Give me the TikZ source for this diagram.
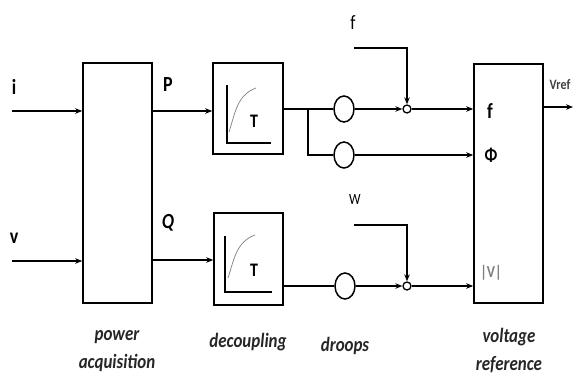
\documentclass[tikz,border=0pt]{standalone}
\usepackage{fontspec}
\setmainfont{Carlito}
\usetikzlibrary{arrows.meta,shapes.geometric}
\tikzset{
  blk/.style={draw, line width=1.6bp, inner sep=0pt, fill=white},
  wire/.style={line width=1.6bp},
  arr/.style={wire, -{Stealth[length=7bp,width=5.5bp]}},
  oval/.style={draw, ellipse, line width=1.5bp, minimum width=20bp, minimum height=26bp, inner sep=0pt},
  sumj/.style={draw, circle, line width=1.3bp, minimum size=8bp, inner sep=0pt},
  sig/.style={font=\fontsize{18}{20}\selectfont\bfseries, inner sep=0pt},
  captext/.style={font=\fontsize{17}{27}\selectfont\bfseries\itshape, align=center, inner sep=0pt, text=black!85},
  axis/.style={line width=1.5bp, line cap=rect},
  crv/.style={line width=0.7bp, draw=black!50},
}
\newcommand{\tall}[1]{\scalebox{1}[1.2]{#1}}
\begin{document}
\begin{tikzpicture}[x=1bp,y=-1bp]
\useasboundingbox (0,0) rectangle (573,377);
% blocks
\node[blk, minimum width=69bp, minimum height=240bp] (pa) at (117.5,183) {};
\node[blk, minimum width=70bp, minimum height=91bp] (dp) at (248,108.5) {};
\node[blk, minimum width=69bp, minimum height=92bp] (dq) at (248.5,259) {};
\node[blk, minimum width=69bp, minimum height=239bp] (vr) at (508.5,183.5) {};
% step-response icons
\draw[axis] (227,86) -- (227,143) -- (270,143);
\draw[crv] (229,132) to[out=72,in=200] (256,88);
\node[sig, font=\fontsize{16}{18}\selectfont\bfseries] (tp) at (254,121) {\tall{T}};
\draw[axis] (225,237) -- (225,292) -- (271,292);
\draw[crv] (228,278) to[out=72,in=200] (255,235);
\node[sig, font=\fontsize{16}{18}\selectfont\bfseries] (tq) at (254,270) {\tall{T}};
% droop ovals and junctions
\node[oval] (c1) at (344,109) {};
\node[oval] (c2) at (344,155) {};
\node[oval] (c3) at (345,286) {};
\node[sumj] (s1) at (407,109) {};
\node[sumj] (s3) at (407,286) {};
% coordinates for free ends
\coordinate (iin) at (12,111);
\coordinate (vin) at (12,261);
\coordinate (pout) at (152,111);
\coordinate (qout) at (152,260);
\coordinate (br) at (308,109);
\coordinate (fin) at (354,48);
\coordinate (win) at (354,225);
\coordinate (vout) at (573,107);
% labels
\node[sig] (li) at (14,87) {\tall{i}};
\node[sig] (lv) at (14,238) {\tall{v}};
\node[sig] (lp) at (168,85) {\tall{P}};
\node[sig] (lq) at (168,223) {\tall{\itshape Q}};
\node[sig, font=\fontsize{17}{18}\selectfont] (lf) at (353,23) {\tall{f}};
\node[sig, font=\fontsize{13}{18}\selectfont] (lw) at (355,200) {\tall{W}};
\node[sig, font=\fontsize{18}{18}\selectfont\bfseries] (lf2) at (490,111) {\tall{f}};
\node[sig, font=\fontsize{16}{18}\selectfont\bfseries] (lphi) at (491,155) {\tall{Φ}};
\node[sig, font=\fontsize{14}{18}\selectfont\bfseries, text=black!50] (lv2) at (491,273) {\tall{|V|}};
\node[sig, font=\fontsize{12}{14}\selectfont\bfseries, text=black!75] (lvref) at (560,85) {\tall{Vref}};
% connectors
\draw[arr] (iin) -- (iin -| pa.west);
\draw[arr] (vin) -- (vin -| pa.west);
\draw[arr] (pout) -- (pout -| dp.west);
\draw[arr] (qout) -- (qout -| dq.west);
\draw[wire] (dp.east |- c1) -- (c1);
\draw[wire] (br) |- (c2);
\draw[arr] (c1) -- (s1);
\draw[arr] (s1) -- (s1 -| vr.west);
\draw[arr] (c2) -- (c2 -| vr.west);
\draw[wire] (dq.east |- c3) -- (c3);
\draw[arr] (c3) -- (s3);
\draw[arr] (s3) -- (s3 -| vr.west);
\draw[arr] (fin) -| (s1);
\draw[arr] (win) -| (s3);
\draw[arr] (vout -| vr.east) -- (vout);
% captions
\node[captext] (cpa1) at (117,337) {\tall{power}};
\node[captext] (cpa2) at (117,363) {\tall{acquisition}};
\node[captext] (cdc) at (248,342) {\tall{decoupling}};
\node[captext] (cdr) at (345,346) {\tall{droops}};
\node[captext] (cvr1) at (509,337) {\tall{voltage}};
\node[captext] (cvr2) at (509,365) {\tall{reference}};
\end{tikzpicture}
\end{document}
